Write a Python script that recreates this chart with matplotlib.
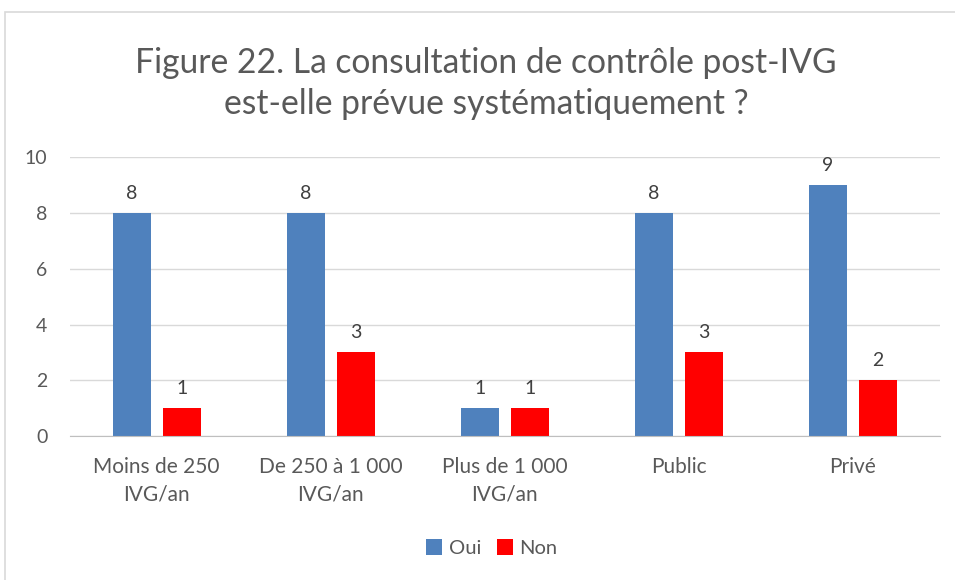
import numpy as np
import matplotlib.pyplot as plt
from matplotlib.patches import Rectangle

categories = ["Moins de 250\nIVG/an", "De 250 à 1 000\nIVG/an", "Plus de 1 000\nIVG/an", "Public", "Privé"]
oui = [8, 8, 1, 8, 9]
non = [1, 3, 1, 3, 2]
yticks = [0, 2, 4, 6, 8, 10]

plt.rcParams["font.family"] = ["Lato", "DejaVu Sans"]
grey = "#595959"

fig = plt.figure(figsize=(9.55, 5.8), dpi=100)
ax = fig.add_axes([0.073, 0.248, 0.911, 0.481])

x = np.arange(len(categories))
w = 0.218
off = 0.144
b1 = ax.bar(x - off, oui, w, color="#4F81BD", label="Oui", zorder=3)
b2 = ax.bar(x + off, non, w, color="#FF0000", label="Non", zorder=3)
for bars in (b1, b2):
    ax.bar_label(bars, padding=8, fontsize=14, color="#404040")

ax.set_xlim(-0.5, 4.5)
ax.set_ylim(0, 10)
ax.set_yticks(yticks)
ax.set_xticks(x)
ax.set_xticklabels(categories, fontsize=15, color=grey, linespacing=1.5)
ax.tick_params(axis="y", labelsize=14, labelcolor=grey, length=0, pad=16)
ax.tick_params(axis="x", length=0, pad=15)
ax.grid(axis="y", color="#D9D9D9", linewidth=1, zorder=0)
for s in ["top", "right", "left"]:
    ax.spines[s].set_visible(False)
ax.spines["bottom"].set_color("#BFBFBF")
ax.spines["bottom"].set_zorder(4)

fig.text(0.509, 0.856, "Figure 22. La consultation de contrôle post-IVG\nest-elle prévue systématiquement ?",
         ha="center", va="center", fontsize=24.2, color=grey, linespacing=1.33)

ax.legend(loc="center", bbox_to_anchor=(0.515, 0.055), bbox_transform=fig.transFigure,
          ncol=2, frameon=False, fontsize=14.5, handlelength=0.8, handleheight=0.8,
          handletextpad=0.3, columnspacing=0.8, labelcolor=grey)

fig.patches.append(Rectangle((5 / 955, -0.01), 1.0, 1 - 12 / 580 + 0.01, transform=fig.transFigure,
                             fill=False, edgecolor="#D9D9D9", linewidth=1.2))

fig.savefig("out.png", dpi=100)
